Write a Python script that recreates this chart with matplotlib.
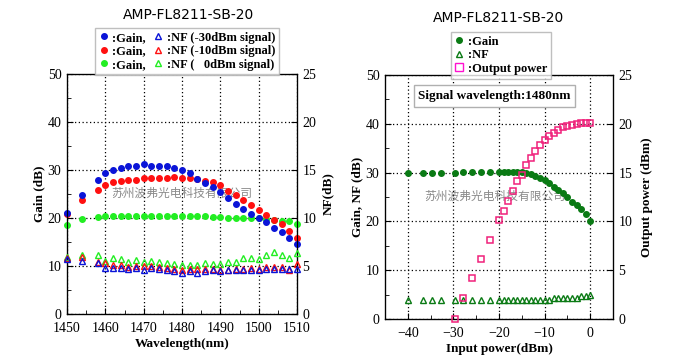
import numpy as np
import matplotlib.pyplot as plt
from matplotlib.lines import Line2D
from matplotlib.ticker import MultipleLocator

## Data: gain / NF vs wavelength (left)
wavelength = [1450, 1454, 1458, 1460, 1462, 1464, 1466, 1468, 1470, 1472,
              1474, 1476, 1478, 1480, 1482, 1484, 1486, 1488, 1490, 1492,
              1494, 1496, 1498, 1500, 1502, 1504, 1506, 1508, 1510]
gain_m30 = [21.0, 24.7, 28.0, 29.3, 30.0, 30.5, 30.9, 30.9, 31.2, 30.9,
            30.9, 30.9, 30.5, 29.9, 29.4, 28.2, 27.3, 26.4, 25.4, 24.1,
            23.0, 21.8, 20.8, 20.0, 19.2, 18.0, 17.1, 15.8, 14.6]
gain_m10 = [20.9, 23.7, 25.9, 26.8, 27.4, 27.8, 28.0, 28.0, 28.3, 28.4,
            28.4, 28.4, 28.6, 28.4, 28.4, 28.2, 27.8, 27.4, 26.8, 25.7,
            24.7, 23.7, 22.8, 21.7, 20.7, 19.6, 18.7, 17.2, 15.8]
gain_0 = [18.6, 19.7, 20.3, 20.5, 20.4, 20.4, 20.4, 20.4, 20.5, 20.5,
          20.5, 20.5, 20.5, 20.4, 20.5, 20.5, 20.4, 20.3, 20.2, 19.9,
          19.9, 19.9, 19.9, 19.9, 19.7, 19.5, 19.3, 19.3, 18.7]
nf_m30 = [5.76, 5.5, 5.3, 4.83, 4.83, 4.83, 4.65, 4.75, 4.55, 4.75,
          4.7, 4.6, 4.5, 4.25, 4.45, 4.3, 4.5, 4.55, 4.45, 4.55,
          4.55, 4.55, 4.55, 4.55, 4.7, 4.7, 4.7, 4.7, 4.7]
nf_m10 = [5.85, 5.9, 5.45, 5.3, 5.1, 5.15, 4.85, 4.95, 4.95, 5.0,
          4.85, 4.75, 4.7, 4.6, 4.7, 4.7, 4.7, 4.65, 4.6, 4.6,
          4.7, 4.7, 4.75, 4.7, 4.9, 4.9, 4.9, 4.55, 5.25]
nf_0 = [5.95, 6.1, 6.1, 5.5, 5.8, 5.7, 5.45, 5.6, 5.45, 5.5,
        5.45, 5.35, 5.25, 5.1, 5.1, 5.1, 5.35, 5.2, 5.25, 5.45,
        5.45, 5.85, 5.85, 5.7, 6.1, 6.5, 6.1, 5.85, 6.35]

## Data: gain / NF / output vs input power (right)
input_power = [-40, -36.7, -34.7, -32.7, -29.7, -27.8, -25.9, -23.9, -21.9,
               -20, -19, -18, -17, -16, -15, -14, -13, -12, -11, -10,
               -9, -8, -7, -6, -5, -4, -3, -2, -1, 0]
gain_in = [30.0, 30.0, 30.0, 30.0, 30.0, 30.1, 30.1, 30.1, 30.1,
           30.2, 30.2, 30.2, 30.2, 30.2, 30.1, 30.0, 29.7, 29.4, 28.9, 28.5,
           27.8, 27.0, 26.5, 25.8, 25.1, 24.0, 23.3, 22.6, 21.6, 20.0]
nf_in = [3.95, 3.95, 3.95, 3.95, 3.95, 3.95, 3.95, 3.95, 3.95,
         3.95, 3.95, 3.95, 3.95, 3.95, 3.95, 3.95, 3.95, 3.95, 3.95, 3.95,
         3.95, 4.35, 4.35, 4.35, 4.35, 4.35, 4.35, 4.7, 4.8, 4.85]
output_power = [np.nan, np.nan, np.nan, np.nan, 0.0, 2.2, 4.15, 6.1, 8.05,
                10.1, 11.1, 12.1, 13.1, 14.1, 14.8, 15.8, 16.5, 17.2, 17.8, 18.3,
                18.8, 19.1, 19.4, 19.65, 19.8, 19.9, 20.0, 20.05, 20.1, 20.1]

title = "AMP-FL8211-SB-20"
watermark = "苏州波弗光电科技有限公司"

BLUE = "#0a14d8"
RED = "#ff1010"
LIME = "#22ee22"
DGREEN = "#0a7a14"
PINK = "#f0207a"

serif = "Liberation Serif"
lab_font = dict(family=serif, weight="bold", size=9.5)
leg_font = {"family": serif, "weight": "bold", "size": 9}

fig = plt.figure(figsize=(6.8, 3.62), dpi=100)


def style_axis(ax, xmajor, xminor, ymajor=10, yminor=5):
    ax.xaxis.set_major_locator(MultipleLocator(xmajor))
    ax.xaxis.set_minor_locator(MultipleLocator(xminor))
    ax.yaxis.set_major_locator(MultipleLocator(ymajor))
    ax.yaxis.set_minor_locator(MultipleLocator(yminor))
    ax.tick_params(which="both", direction="in", labelsize=10)
    ax.tick_params(axis="x", which="both", pad=6)
    ax.tick_params(axis="y", which="both", pad=4)
    ax.tick_params(which="major", length=4)
    ax.tick_params(which="minor", length=3)
    ax.grid(True, which="major", color="black", linestyle=(0, (1, 2)), linewidth=0.9)
    for lbl in ax.get_xticklabels() + ax.get_yticklabels():
        lbl.set_family(serif)
    for s in ax.spines.values():
        s.set_linewidth(0.9)


ms = 4.0
tms = 4.3

## Left panel
ax1 = fig.add_axes([67 / 680, 1 - 314 / 362, 230 / 680, 240 / 362])
ax1.set_xlim(1450, 1510)
ax1.set_ylim(0, 50)
style_axis(ax1, 10, 5)
ax1b = ax1.twinx()
ax1b.set_ylim(0, 25)
ax1b.yaxis.set_major_locator(MultipleLocator(5))
ax1b.tick_params(direction="in", labelsize=10, length=4, pad=4)
for lbl in ax1b.get_yticklabels():
    lbl.set_family(serif)

for g, n, c in [(gain_0, nf_0, LIME), (gain_m10, nf_m10, RED), (gain_m30, nf_m30, BLUE)]:
    ax1.plot(wavelength, g, "o", color=c, ms=ms, mec=c, clip_on=False, zorder=4)
    ax1b.plot(wavelength, n, "^", mfc="none", mec=c, ms=tms, mew=1.0, clip_on=False, zorder=4)

ax1.set_xlabel("Wavelength(nm)", fontdict=lab_font, labelpad=2)
ax1.set_ylabel("Gain (dB)", fontdict=lab_font, labelpad=2)
ax1b.set_ylabel("NF(dB)", fontdict=lab_font, labelpad=4)
ax1.text(0.5, 0.505, watermark, transform=ax1.transAxes, ha="center", va="center",
         fontsize=8.5, color="#8a8a8a", family="Noto Sans CJK SC", zorder=1)

handles = [Line2D([], [], ls="none", marker="o", color=c, ms=ms) for c in (BLUE, RED, LIME)]
handles += [Line2D([], [], ls="none", marker="^", mfc="none", mec=c, ms=tms) for c in (BLUE, RED, LIME)]
labels = [":Gain,", ":Gain,", ":Gain,",
          ":NF (-30dBm signal)", ":NF (-10dBm signal)", ":NF (   0dBm signal)"]
fig.legend(handles, labels, ncol=2, loc="upper center", bbox_to_anchor=(187 / 680, 1 - 28 / 362),
           prop=leg_font, frameon=True, fancybox=False, edgecolor="#b0b0b0",
           handlelength=0.8, handletextpad=0.3, columnspacing=0.6, labelspacing=0.12,
           borderpad=0.3, borderaxespad=0)
fig.text(189 / 680, 1 - 15 / 362, title, ha="center", va="center", fontsize=10,
         family="DejaVu Sans")

## Right panel
ax2 = fig.add_axes([385 / 680, 1 - 319 / 362, 228 / 680, 244 / 362])
ax2.set_xlim(-45, 5)
ax2.set_ylim(0, 50)
style_axis(ax2, 10, 5)
ax2b = ax2.twinx()
ax2b.set_ylim(0, 25)
ax2b.yaxis.set_major_locator(MultipleLocator(5))
ax2b.tick_params(direction="in", labelsize=10, length=4, pad=4)
for lbl in ax2b.get_yticklabels():
    lbl.set_family(serif)

ax2.plot(input_power, gain_in, "o", color=DGREEN, ms=ms, clip_on=False, zorder=4)
ax2.plot(input_power, nf_in, "^", mfc="none", mec=DGREEN, ms=tms, mew=1.0, clip_on=False, zorder=4)
ax2b.plot(input_power, output_power, "s", mfc="none", mec=PINK, ms=4.8, mew=1.1, clip_on=False, zorder=4)

ax2.set_xlabel("Input power(dBm)", fontdict=lab_font, labelpad=2)
ax2.set_ylabel("Gain, NF (dB)", fontdict=lab_font, labelpad=2)
ax2b.set_ylabel("Output power (dBm)", fontdict=lab_font, labelpad=6)
ax2.text(0.48, 0.505, watermark, transform=ax2.transAxes, ha="center", va="center",
         fontsize=8.5, color="#8a8a8a", family="Noto Sans CJK SC", zorder=1)
ax2.text(0.48, 0.914, "Signal wavelength:1480nm", transform=ax2.transAxes,
         ha="center", va="center", fontdict=dict(family=serif, weight="bold", size=9.5),
         bbox=dict(boxstyle="square,pad=0.35", fc="white", ec="#b0b0b0", lw=1), zorder=5)

h2 = [Line2D([], [], ls="none", marker="o", color=DGREEN, ms=ms),
      Line2D([], [], ls="none", marker="^", mfc="none", mec=DGREEN, ms=tms),
      Line2D([], [], ls="none", marker="s", mfc="none", mec="#ff10d0", ms=6)]
fig.legend(h2, [":Gain", ":NF", ":Output power"], loc="upper center",
           bbox_to_anchor=(501 / 680, 1 - 32 / 362), prop=leg_font, frameon=True,
           fancybox=False, edgecolor="#b0b0b0", handlelength=0.8, handletextpad=0.3,
           labelspacing=0.12, borderpad=0.3, borderaxespad=0)
fig.text(499 / 680, 1 - 18 / 362, title, ha="center", va="center", fontsize=10,
         family="DejaVu Sans")

fig.savefig("out.png", dpi=100)
